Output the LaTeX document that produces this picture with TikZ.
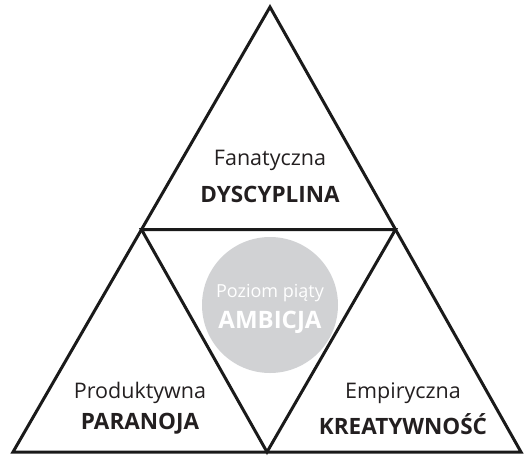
\documentclass[tikz,border=0pt]{standalone}
\usepackage{fontspec}
\setmainfont{Open Sans}
\usetikzlibrary{positioning, calc}

\definecolor{inkline}{HTML}{1A1A1A}
\definecolor{inktext}{HTML}{231F20}
\definecolor{ambigray}{HTML}{D1D2D4}

\begin{document}
\begin{tikzpicture}[
    x=1pt, y=-1pt,
    % style definitions
    edge/.style={draw=inkline, line width=3pt, line join=miter},
    light_label/.style={font=\fontsize{21.5}{24}\selectfont, text=inktext, inner sep=0pt},
    bold_label/.style={font=\fontsize{22.5}{26}\selectfont\bfseries, text=inktext, inner sep=0pt},
    core_disc/.style={circle, fill=ambigray, minimum size=136pt, inner sep=0pt},
    core_light/.style={font=\fontsize{18}{21}\selectfont, text=white, inner sep=0pt},
    core_bold/.style={font=\fontsize{24}{28}\selectfont\bfseries, text=white, inner sep=0pt}
]
    \useasboundingbox (0,0) rectangle (525,459);

    % --- 1. CORNERS ---
    \coordinate (apex) at (270, 7);
    \coordinate (base_left) at (13, 452);
    \coordinate (base_right) at (521, 452);
    \coordinate (mid_left) at ($(apex)!0.5!(base_left)$);
    \coordinate (mid_right) at ($(apex)!0.5!(base_right)$);
    \coordinate (mid_base) at ($(base_left)!0.5!(base_right)$);

    % --- 2. CENTRE DISC ---
    \node[core_disc] (ambition) at (270, 305) {};

    % --- 3. TRIANGLES ---
    \draw[edge] (apex) -- (base_right) -- (base_left) -- cycle;
    \draw[edge] (mid_left) -- (mid_right) -- (mid_base) -- cycle;

    % --- 4. LABELS ---
    \node[light_label] (fan) at (270, 160) {Fanatyczna};
    \node[bold_label, below=34pt of fan.center, anchor=center] (dys) {DYSCYPLINA};

    \node[light_label] (prod) at (140, 393) {Produktywna};
    \node[bold_label, below=31pt of prod.center, anchor=center] (para) {PARANOJA};

    \node[light_label] (emp) at (403, 393) {Empiryczna};
    \node[bold_label, below=31pt of emp.center, anchor=center] (kreat) {KREATYWNOŚĆ};

    \node[core_light] (level) at (270, 293) {Poziom piąty};
    \node[core_bold, below=29pt of level.center, anchor=center] (amb) {AMBICJA};

\end{tikzpicture}
\end{document}
